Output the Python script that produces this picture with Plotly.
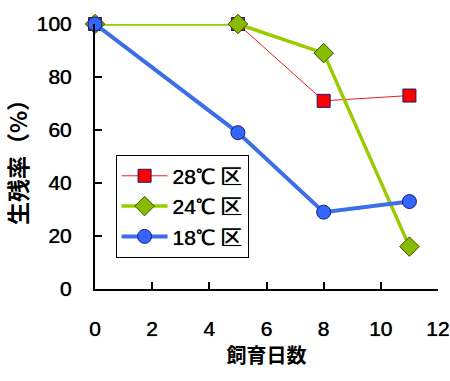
import plotly.graph_objects as go

# Rearing days and survival rate (%) for each temperature group
days = [0, 5, 8, 11]
survival_28 = [100, 100, 71, 73]
survival_24 = [100, 100, 89, 16]
survival_18 = [100, 59, 29, 33]

x_ticks = [0, 2, 4, 6, 8, 10, 12]
y_ticks = [0, 20, 40, 60, 80, 100]

num_font = "Liberation Sans, Arial, sans-serif"
cjk_font = "Noto Sans CJK JP, sans-serif"
edge = "#1a1a6e"
heavy = "0px 0px 0.7px black"

fig = go.Figure()
fig.add_trace(go.Scatter(
    x=days, y=survival_28, name="28℃ 区", mode="lines+markers",
    line=dict(color="#e8201a", width=1),
    marker=dict(symbol="square", size=13, color="#ff0000", line=dict(color=edge, width=1)),
))
fig.add_trace(go.Scatter(
    x=days, y=survival_24, name="24℃ 区", mode="lines+markers",
    line=dict(color="#99cc00", width=3.5),
    marker=dict(symbol="diamond", size=15, color="#88bb00", line=dict(color="#335500", width=1)),
))
fig.add_trace(go.Scatter(
    x=days, y=survival_18, name="18℃ 区", mode="lines+markers",
    line=dict(color="#3d6ee8", width=4),
    marker=dict(symbol="circle", size=14, color="#3366ff", line=dict(color=edge, width=1)),
))
fig.update_traces(cliponaxis=False)

fig.update_layout(
    width=450, height=381,
    margin=dict(l=95, r=12, t=24, b=92),
    paper_bgcolor="white", plot_bgcolor="white",
    font=dict(family=cjk_font, color="black"),
    showlegend=True,
    legend=dict(
        x=0.06, y=0.507, xanchor="left", yanchor="top",
        bgcolor="white", bordercolor="black", borderwidth=1,
        font=dict(family=num_font, size=21, color="black", shadow=heavy),
        itemwidth=46, tracegroupgap=0,
    ),
    xaxis=dict(
        range=[0, 12], tickvals=x_ticks, ticks="inside", ticklen=7, tickwidth=2,
        tickcolor="black", showline=True, linecolor="black", linewidth=2,
        showgrid=False, zeroline=False, ticklabelstandoff=20, automargin=False,
        tickfont=dict(family=num_font, size=21, shadow=heavy),
        title=dict(text="<b>飼育日数</b>", font=dict(family=cjk_font, size=20), standoff=10),
    ),
    yaxis=dict(
        range=[0, 100], tickvals=y_ticks, ticks="inside", ticklen=7, tickwidth=2,
        tickcolor="black", showline=True, linecolor="black", linewidth=2,
        showgrid=False, zeroline=False, ticklabelstandoff=17, automargin=False,
        tickfont=dict(family=num_font, size=21, shadow=heavy),
        title=dict(text="<b>生残率（%）</b>", font=dict(family=cjk_font, size=23), standoff=6),
    ),
)

fig.write_html("out.html")
